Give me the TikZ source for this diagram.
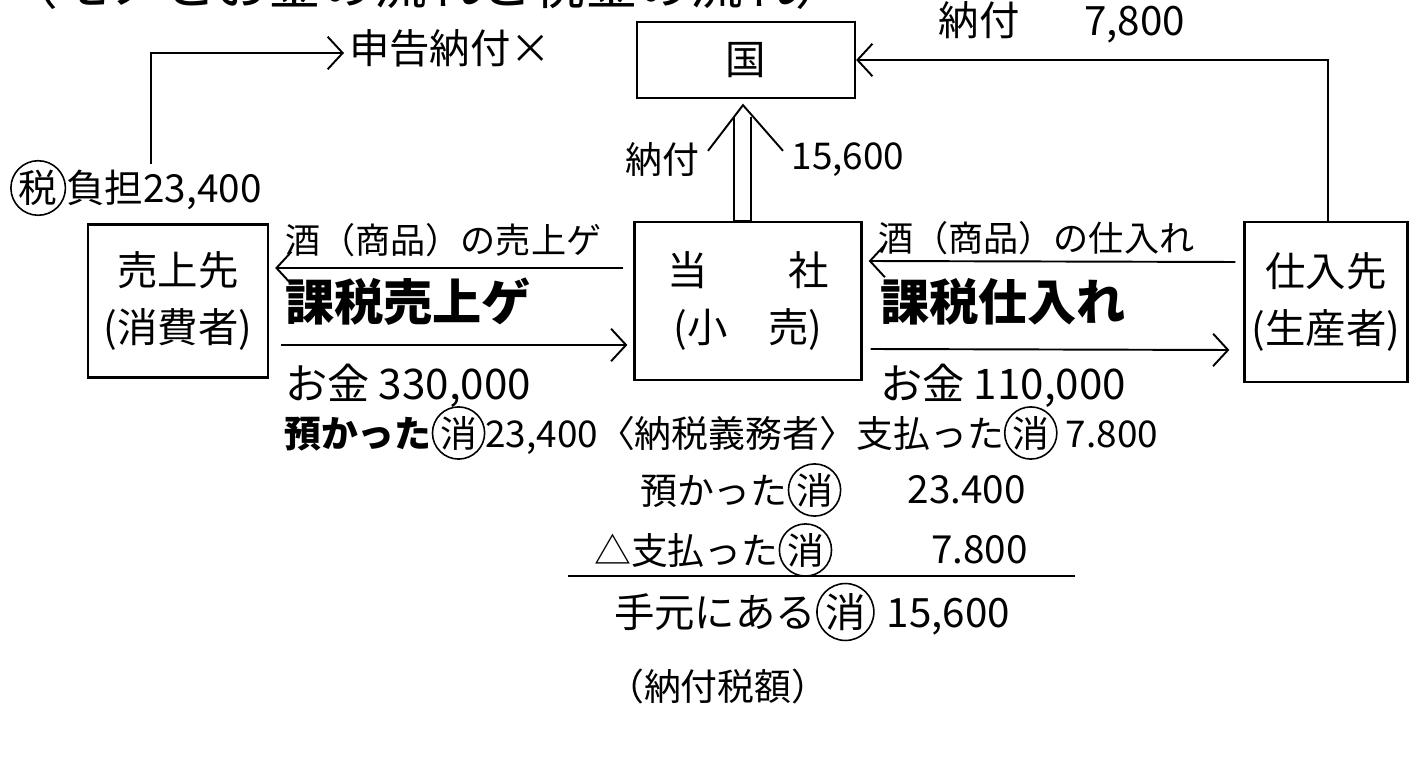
\documentclass[tikz,border=0pt]{standalone}
\usepackage{fontspec}
\setmainfont{Noto Sans CJK JP}
\usetikzlibrary{arrows.meta,calc}
\newcommand{\maru}[1]{\tikz[baseline=(m.base)]\node[circle,draw,line width=0.9pt,inner sep=0.4pt](m){#1};}
\tikzset{
  box/.style={draw,line width=1.3pt,align=center,inner sep=1pt,font=\fontsize{23}{32}\selectfont},
  lbl/.style={font=\fontsize{20}{24}\selectfont,inner sep=1pt},
  big/.style={font=\fontsize{28}{30}\selectfont\bfseries,inner sep=1pt},
  arr/.style={line width=1.1pt,-{Straight Barb[length=0.3cm,width=0.65cm,line width=1.1pt]}},
  ln/.style={line width=1.1pt}
}
\begin{document}
\begin{tikzpicture}[x=0.02cm,y=-0.02cm]
\useasboundingbox (0,0) rectangle (1413,766);
% cut-off title at top
\node[inner sep=0pt,font=\fontsize{30}{32}\selectfont,anchor=south west] (title) at (5,10) {（モノとお金の流れと税金の流れ）};
% boxes
\node[box,minimum width=218*0.02cm,minimum height=76*0.02cm] (kuni) at (746,60) {国};
\node[box,minimum width=180*0.02cm,minimum height=153*0.02cm] (uriage) at (178,301) {売上先\\(消費者)};
\node[box,minimum width=227*0.02cm,minimum height=158*0.02cm] (tosha) at (748,301) {当　　社\\(小　売)};
\node[box,minimum width=163*0.02cm,minimum height=160*0.02cm] (shiire) at (1326,302) {仕入先\\(生産者)};
% top labels
\node[lbl,font=\fontsize{23}{26}\selectfont,anchor=west] (shinkoku) at (347,48) {申告納付×};
\node[lbl,font=\fontsize{23}{26}\selectfont] (noufu1) at (1062,22) {納付\hspace{1.6em}7,800};
\node[lbl,anchor=west,font=\fontsize{22}{26}\selectfont] (futan) at (8,188) {\maru{税}負担23,400};
\node[lbl,font=\fontsize{21}{24}\selectfont] (noufu2) at (662,160) {納付};
\node[lbl,font=\fontsize{21}{24}\selectfont] (n15600) at (848,160) {15,600};
% connectors to kuni
\draw[arr] ($(shiire.north)+(2,0)$) |- (kuni.east);
\draw[arr] ($(futan.north)+(15,6)$) |- ($(shinkoku.west)+(-3,5)$);
% hollow up arrow
\coordinate (ua) at ($(tosha.north)+(-5,0)$);
\draw[ln] ($(ua)+(-9,0)$) -- ($(ua)+(-9,-104)$);
\draw[ln] ($(ua)+(8,0)$) -- ($(ua)+(8,-104)$);
\draw[ln] ($(ua)+(-9,0)$) -- ($(ua)+(8,0)$);
\draw[ln] ($(ua)+(-35,-70)$) -- ($(kuni.south)+(-3,6)$) -- ($(ua)+(40,-70)$);
% horizontal flows
\draw[arr] ($(tosha.west)+(-10,-33)$) -- ($(uriage.east)+(6,-33)$);
\draw[arr] ($(uriage.east)+(12,44)$) -- ($(tosha.west)+(-6,44)$);
\draw[arr] ($(shiire.west)+(-8,-40)$) -- ($(tosha.east)+(6,-40)$);
\draw[arr] ($(tosha.east)+(8,48)$) -- ($(shiire.west)+(-14,48)$);
% flow labels
\node[lbl,anchor=west] (sake1) at (283,240) {酒（商品）の売上ゲ};
\node[big,anchor=west] (kazei1) at (283,302) {課税売上ゲ};
\node[lbl,anchor=west,font=\fontsize{24}{26}\selectfont] (okane1) at (283,386) {お金 330,000};
\node[lbl,anchor=west] (sake2) at (876,238) {酒（商品）の仕入れ};
\node[big,anchor=west] (kazei2) at (878,302) {課税仕入れ};
\node[lbl,anchor=west,font=\fontsize{24}{26}\selectfont] (okane2) at (878,386) {お金 110,000};
% bottom lines
\node[lbl,anchor=west,font=\fontsize{21}{24}\selectfont] (line1) at (282,433) {{\bfseries 預かった}\maru{消}23,400〈納税義務者〉支払った\maru{消} 7.800};
\node[lbl,anchor=west,font=\fontsize{21}{24}\selectfont] (az) at (638,490) {預かった\maru{消}};
\node[lbl,anchor=east,font=\fontsize{22}{24}\selectfont] (az2) at (1028,490) {23.400};
\node[lbl,anchor=west,font=\fontsize{21}{24}\selectfont] (sh) at (592,550) {△支払った\maru{消}};
\node[lbl,anchor=east,font=\fontsize{22}{24}\selectfont] (sh2) at (1030,550) {7.800};
\draw[line width=1.4pt] (568,576) -- (1075,576);
\node[lbl,anchor=west,font=\fontsize{23}{26}\selectfont] (te) at (612,612) {手元にある\maru{消}\hspace{0.3em}15,600};
\node[lbl,anchor=west,font=\fontsize{21}{24}\selectfont] (zei) at (605,686) {（納付税額）};
\end{tikzpicture}
\end{document}
